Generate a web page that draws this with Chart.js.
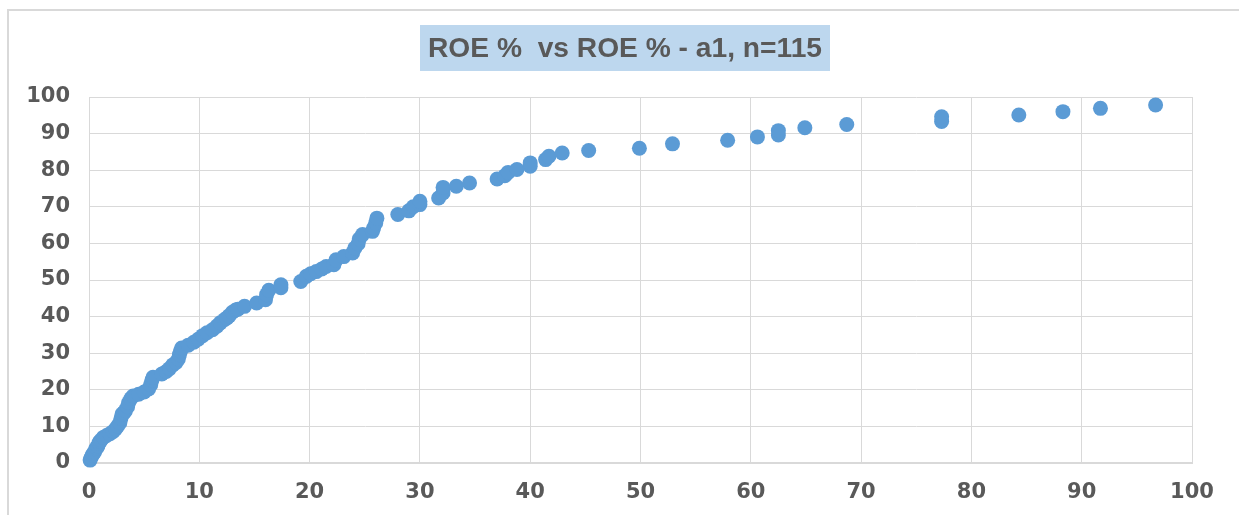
<!DOCTYPE html>
<html>
<head>
<meta charset="utf-8">
<script src="https://cdn.jsdelivr.net/npm/chart.js@4"></script>
<style>
  html, body { margin: 0; padding: 0; background: #fff; }
  #wrap { position: relative; width: 1239px; height: 515px; }
</style>
</head>
<body>
<div id="wrap"><canvas id="roeChart" width="1239" height="515"></canvas></div>
<script>
const chartTitle = 'ROE %  vs ROE % - a1, n=115';

// x = ROE %, y = ROE % - a1
const roeX = [
  0.1, 0.2, 0.3, 0.4, 0.5, 0.6, 0.7, 0.8, 0.9, 1.0, 1.1, 1.3, 1.6, 1.9, 2.2, 2.4, 2.6, 2.8, 2.9, 3.0,
  3.2, 3.3, 3.5, 3.6, 3.8, 4.0, 4.5, 5.0, 5.4, 5.6, 5.7, 5.8, 6.6, 7.0, 7.3, 7.6, 7.9, 8.1, 8.2, 8.3,
  8.4, 9.0, 9.5, 9.9, 10.3, 10.7, 11.2, 11.6, 11.9, 12.3, 12.5, 12.7, 13.0, 13.3, 13.5, 14.1,
  15.2, 16.0, 16.1, 16.3, 17.4, 17.4, 19.2, 19.7, 20.1, 20.6, 21.1, 21.5, 22.2, 22.4, 23.1, 23.9,
  24.1, 24.4, 24.5, 24.8, 25.7, 25.8, 26.0, 26.1,
  28.0, 29.0, 29.4, 30.0, 30.0, 31.7, 32.1, 32.1, 33.3, 34.5, 37.0, 37.7, 38.0, 38.8, 40.0, 40.0,
  41.4, 41.7, 42.9, 45.3, 49.9, 52.9,
  57.9, 60.6, 62.5, 62.5, 64.9, 68.7, 77.3, 77.3, 84.3, 88.3, 91.7, 96.7
];
const roeY = [
  0.8, 1.5, 2.2, 2.6, 3.0, 3.8, 4.2, 4.6, 5.5, 5.9, 6.3, 7.0, 7.5, 8.0, 8.6, 9.3, 10.1, 11.0, 12.2, 13.4,
  13.8, 14.3, 15.4, 16.5, 17.6, 18.3, 18.8, 19.4, 20.2, 21.4, 22.6, 23.4, 24.3, 25.0, 25.8, 26.8, 27.5, 28.4, 29.6, 30.6,
  31.4, 32.2, 33.0, 33.8, 34.8, 35.6, 36.4, 37.4, 38.3, 39.2, 39.6, 40.2, 41.2, 41.8, 42.0, 42.8,
  43.7, 44.6, 46.0, 47.2, 47.9, 48.7, 49.6, 51.0, 51.7, 52.3, 53.0, 53.7, 54.2, 55.5, 56.4, 57.4,
  58.7, 59.9, 61.2, 62.4, 63.3, 64.2, 65.6, 66.9,
  67.9, 68.9, 70.0, 70.6, 71.5, 72.4, 73.8, 75.3, 75.6, 76.5, 77.6, 78.5, 79.4, 80.2, 81.1, 82.0,
  82.9, 83.8, 84.7, 85.4, 86.0, 87.2,
  88.2, 89.1, 89.6, 90.8, 91.6, 92.5, 93.3, 94.6, 95.1, 96.0, 96.9, 97.8
];

const points = roeX.map((x, i) => ({ x: x, y: roeY[i] }));

const GRAY_TEXT = '#595959';
const GRID = '#d9d9d9';

// outer frame + highlighted title box, drawn like the spreadsheet chart
const frameTitlePlugin = {
  id: 'frameTitle',
  beforeDraw: (chart) => {
    const { ctx } = chart;
    ctx.save();
    ctx.strokeStyle = GRID;
    ctx.lineWidth = 2;
    ctx.beginPath();
    ctx.moveTo(8, 515);
    ctx.lineTo(8, 10);
    ctx.lineTo(1239, 10);
    ctx.stroke();

    // title box
    ctx.fillStyle = '#bdd7ee';
    ctx.fillRect(420, 25, 410, 46);

    ctx.fillStyle = GRAY_TEXT;
    ctx.font = 'bold 28px "Liberation Sans Narrow", "Liberation Sans", Arial, sans-serif';
    ctx.textAlign = 'center';
    ctx.textBaseline = 'middle';
    const w = ctx.measureText(chartTitle).width;
    const sx = 394 / w;
    ctx.translate(625, 49);
    ctx.scale(sx, 1);
    ctx.fillText(chartTitle, 0, 0);
    ctx.restore();
  }
};

const tickFont = { family: '"DejaVu Sans", Verdana, sans-serif', size: 21, weight: 'bold' };

new Chart(document.getElementById('roeChart').getContext('2d'), {
  type: 'scatter',
  data: {
    datasets: [{
      label: chartTitle,
      data: points,
      backgroundColor: '#5b9bd5',
      borderWidth: 0,
      pointRadius: 7.5,
      pointHoverRadius: 7.5,
      clip: false
    }]
  },
  plugins: [frameTitlePlugin],
  options: {
    responsive: false,
    animation: false,
    layout: {
      padding: { left: 0, top: 97, right: 47, bottom: 0 }
    },
    plugins: {
      legend: { display: false },
      title: { display: false },
      tooltip: { enabled: false }
    },
    scales: {
      x: {
        type: 'linear',
        min: 0,
        max: 100,
        afterFit: (scale) => { scale.height = 52; },
        ticks: {
          stepSize: 10,
          color: GRAY_TEXT,
          font: tickFont,
          padding: 17,
          maxRotation: 0
        },
        grid: { color: GRID, drawTicks: false },
        border: { color: GRID, width: 2 }
      },
      y: {
        type: 'linear',
        min: 0,
        max: 100,
        afterFit: (scale) => { scale.width = 89; },
        ticks: {
          stepSize: 10,
          color: GRAY_TEXT,
          font: tickFont,
          padding: 19
        },
        grid: { color: GRID, drawTicks: false },
        border: { color: GRID }
      }
    }
  }
});
</script>
</body>
</html>
